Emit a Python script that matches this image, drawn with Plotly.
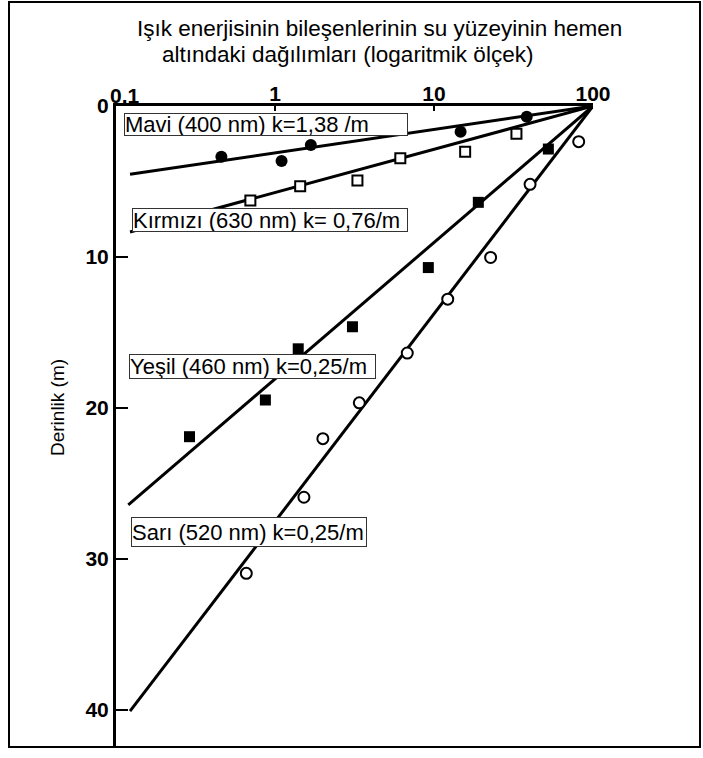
import plotly.graph_objects as go

# ---- data ----
mavi_x = [0.46, 1.10, 1.68, 14.7, 38.3]
mavi_y = [3.36, 3.64, 2.58, 1.70, 0.71]
mavi_fit_x = [0.1225, 100]
mavi_fit_y = [4.52, 0]

kirmizi_x = [0.70, 1.44, 3.30, 6.14, 15.7, 33.0]
kirmizi_y = [6.26, 5.32, 4.93, 3.46, 3.03, 1.84]
kirmizi_fit_x = [0.1225, 100]
kirmizi_fit_y = [8.34, 0]

yesil_x = [0.29, 0.87, 1.40, 3.07, 9.21, 19.0, 52.4]
yesil_y = [21.90, 19.47, 16.08, 14.62, 10.70, 6.38, 2.85]
yesil_fit_x = [0.1195, 100]
yesil_fit_y = [26.42, 0]

sari_x = [0.66, 1.52, 2.00, 3.39, 6.79, 12.2, 22.7, 40.2, 81.3]
sari_y = [30.95, 25.91, 22.03, 19.66, 16.36, 12.79, 10.03, 5.19, 2.36]
sari_fit_x = [0.1225, 100]
sari_fit_y = [40.07, 0]

x_tickvals = [0.1, 1, 10, 100]
x_ticktext = ["0.1", "1", "10", "100"]
y_tickvals = [0, 10, 20, 30, 40]
y_ticktext = ["0", "10", "20", "30", "40"]

labels = [
    "Mavi (400 nm) k=1,38 /m",
    "Kırmızı (630 nm) k= 0,76/m",
    "Yeşil (460 nm) k=0,25/m",
    "Sarı (520 nm) k=0,25/m",
]
title_lines = [
    "Işık enerjisinin bileşenlerinin su yüzeyinin hemen",
    "altındaki dağılımları (logaritmik ölçek)",
]
y_title = "Derinlik (m)"

# ---- layout geometry (pixels) ----
W, H = 703, 758
PL, PR, PT, PB = 116, 593, 106, 747
FONT = "Liberation Sans, Arial, sans-serif"
TICKFONT = dict(family=FONT, size=21, color="black", weight="bold")


def px_x(p):
    return (p - PL) / (PR - PL)


def px_y(p):
    return (PB - p) / (PB - PT)


fig = go.Figure()

line_style = dict(color="black", width=3)
for fx, fy in [(mavi_fit_x, mavi_fit_y), (kirmizi_fit_x, kirmizi_fit_y),
               (yesil_fit_x, yesil_fit_y), (sari_fit_x, sari_fit_y)]:
    fig.add_trace(go.Scatter(x=fx, y=fy, mode="lines", line=line_style,
                             showlegend=False, hoverinfo="skip"))

fig.add_trace(go.Scatter(x=mavi_x, y=mavi_y, mode="markers", showlegend=False,
                         marker=dict(symbol="circle", size=12, color="black")))
fig.add_trace(go.Scatter(x=kirmizi_x, y=kirmizi_y, mode="markers", showlegend=False,
                         marker=dict(symbol="square", size=10, color="white",
                                     line=dict(color="black", width=2))))
fig.add_trace(go.Scatter(x=yesil_x, y=yesil_y, mode="markers", showlegend=False,
                         marker=dict(symbol="square", size=11, color="black")))
fig.add_trace(go.Scatter(x=sari_x, y=sari_y, mode="markers", showlegend=False,
                         marker=dict(symbol="circle", size=11, color="white",
                                     line=dict(color="black", width=2))))

# label boxes: (left, top, right, bottom) in pixels
boxes = [(124, 113, 408, 136), (132, 208, 408, 232),
         (129, 354, 376, 379), (131, 517, 367, 547)]
annotations = []
for text, (l, t, r, b) in zip(labels, boxes):
    annotations.append(dict(
        text=text, xref="paper", yref="paper", x=px_x(l), y=px_y(t),
        xanchor="left", yanchor="top", showarrow=False, align="left",
        width=r - l - 2, height=b - t - 2, borderpad=0, borderwidth=1,
        bordercolor="#333333", bgcolor="white",
        font=dict(family=FONT, size=22, color="black")))

# first x tick label sits a little right of its tick in the reference
annotations.append(dict(text=x_ticktext[0], xref="paper", yref="paper",
                        x=px_x(125), y=px_y(96), xanchor="center", yanchor="middle",
                        showarrow=False, font=TICKFONT))

annotations.append(dict(text=title_lines[0], xref="paper", yref="paper",
                        x=px_x(135), y=px_y(28), xanchor="left", yanchor="middle",
                        showarrow=False, font=dict(family=FONT, size=22.5, color="black")))
annotations.append(dict(text=title_lines[1], xref="paper", yref="paper",
                        x=px_x(160), y=px_y(54), xanchor="left", yanchor="middle",
                        showarrow=False, font=dict(family=FONT, size=22.5, color="black")))
annotations.append(dict(text=y_title, xref="paper", yref="paper",
                        x=px_x(57), y=px_y(408), xanchor="center", yanchor="middle",
                        textangle=-90, showarrow=False,
                        font=dict(family=FONT, size=19, color="black")))

fig.update_layout(
    width=W, height=H,
    margin=dict(l=PL, r=W - PR, t=PT, b=H - PB, pad=0),
    paper_bgcolor="white", plot_bgcolor="white",
    annotations=annotations,
    shapes=[dict(type="rect", xref="paper", yref="paper",
                 x0=px_x(9), x1=px_x(700), y0=px_y(747), y1=px_y(2),
                 line=dict(color="black", width=2), layer="below")],
    xaxis=dict(type="log", range=[-1, 2], side="top", showgrid=False, zeroline=False,
               showline=True, linecolor="black", linewidth=3,
               ticks="inside", ticklen=5, tickwidth=2, tickcolor="black",
               tickvals=x_tickvals, ticktext=[""] + x_ticktext[1:], ticklabelstandoff=-6,
               tickfont=TICKFONT),
    yaxis=dict(range=[42.45, 0], showgrid=False, zeroline=False,
               showline=True, linecolor="black", linewidth=3,
               ticks="inside", ticklen=12, tickwidth=2, tickcolor="black",
               tickvals=y_tickvals, ticktext=y_ticktext,
               tickfont=TICKFONT),
)

fig.write_html("out.html")
